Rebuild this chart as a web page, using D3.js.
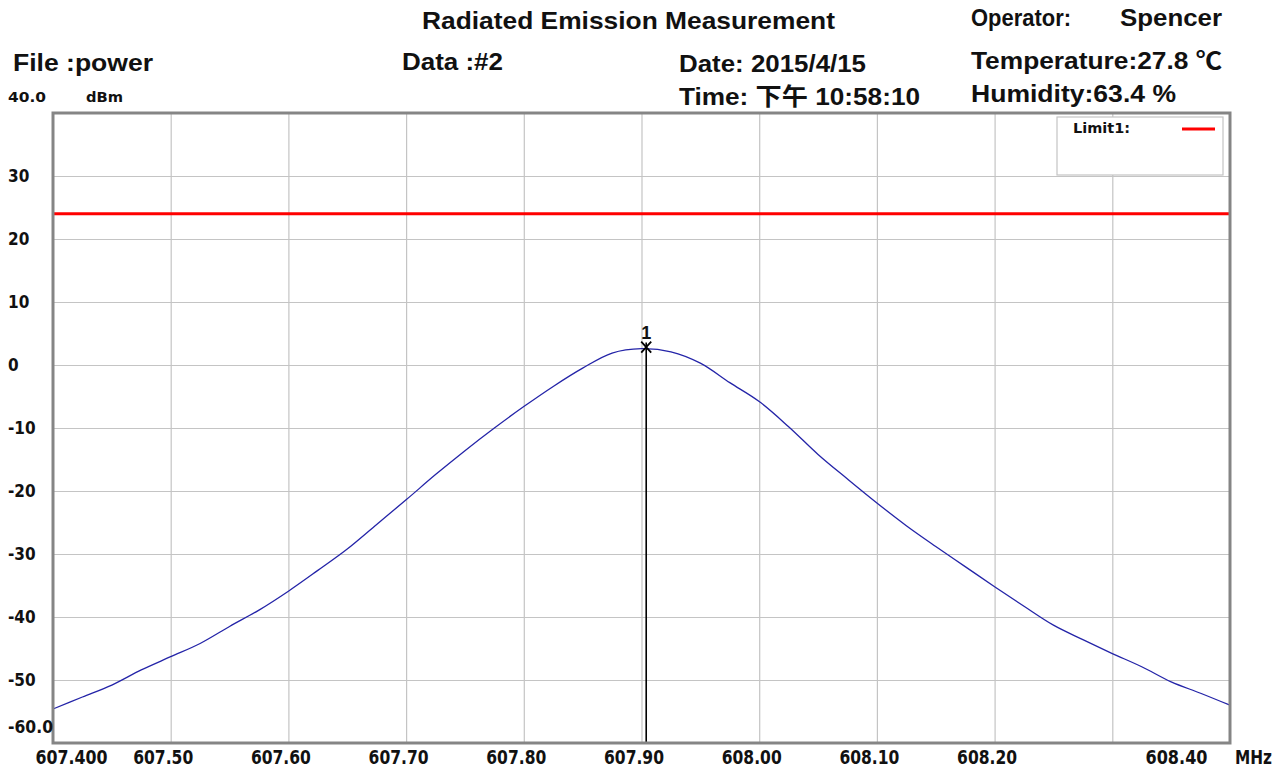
<!DOCTYPE html>
<html>
<head>
<meta charset="utf-8">
<script src="https://cdn.jsdelivr.net/npm/d3@7"></script>
<style>
  html, body { margin: 0; padding: 0; background: #ffffff; }
  svg { display: block; }
  .hdr { font-family: "Liberation Sans", Arial, "Noto Sans CJK SC", sans-serif; font-weight: bold; font-size: 24px; fill: #111; }
  .tick-lbl { font-family: "Liberation Sans Narrow", "DejaVu Sans Condensed", "Liberation Sans", sans-serif; font-weight: bold; fill: #111; }
</style>
</head>
<body>
<svg id="chart" width="1286" height="772"></svg>
<script>
// ---------------- data ----------------
const freqMHz = [
  607.400, 607.425, 607.450, 607.475, 607.500, 607.525, 607.550, 607.575, 607.600, 607.625,
  607.650, 607.675, 607.700, 607.725, 607.750, 607.775, 607.800, 607.825, 607.850, 607.875,
  607.900, 607.925, 607.950, 607.975, 608.000, 608.025, 608.050, 608.075, 608.100, 608.125,
  608.150, 608.175, 608.200, 608.225, 608.250, 608.275, 608.300, 608.325, 608.350, 608.375,
  608.400
];
const levelDbm = [
  -54.6, -52.7, -50.8, -48.4, -46.3, -44.2, -41.5, -38.9, -35.9, -32.6,
  -29.2, -25.3, -21.4, -17.4, -13.6, -10.0, -6.6, -3.4, -0.5, 1.9,
  2.6, 2.1, 0.3, -2.8, -5.8, -9.8, -14.2, -18.1, -21.9, -25.5,
  -28.8, -32.0, -35.2, -38.3, -41.3, -43.6, -45.8, -47.9, -50.3, -52.1,
  -54.0
];
const xGridValues = [607.5, 607.6, 607.7, 607.8, 607.9, 608.0, 608.1, 608.2, 608.3];
const xTickValues = [607.4, 607.5, 607.6, 607.7, 607.8, 607.9, 608.0, 608.1, 608.2, 608.4];
const xTickLabels = ["607.400", "607.50", "607.60", "607.70", "607.80", "607.90", "608.00", "608.10", "608.20", "608.40"];
const yTickValues = [30, 20, 10, 0, -10, -20, -30, -40, -50];
const yTickLabels = ["30", "20", "10", "0", "-10", "-20", "-30", "-40", "-50"];
const yTopLabel = "40.0";
const yBottomLabel = "-60.0";
const yUnit = "dBm";
const xUnit = "MHz";
const limitName = "Limit1:";
const limitDbm = 24;
const markerLabel = "1";
const markerFreq = 607.904;
const markerLevel = 2.6;
const headerTitle = "Radiated Emission Measurement";
const headerFile = "File :power";
const headerData = "Data :#2";
const headerDate = "Date: 2015/4/15";
const headerTime = "Time: 下午 10:58:10";
const headerOperator = "Operator:";
const headerOperatorName = "Spencer";
const headerTemp = "Temperature:27.8 ℃";
const headerHumidity = "Humidity:63.4 %";

// ---------------- layout ----------------
const L = 53, T = 113, R = 1230, B = 743;
const svg = d3.select("#chart");
const x = d3.scaleLinear().domain([607.4, 608.4]).range([L, R]);
const y = d3.scaleLinear().domain([-60, 40]).range([B, T]);

svg.append("rect").attr("x", 0).attr("y", 0).attr("width", 1286).attr("height", 772).attr("fill", "#fff");

// gridlines via axes
const gx = svg.append("g").attr("transform", `translate(0,${B})`)
  .call(d3.axisBottom(x).tickValues(xGridValues).tickSize(-(B - T)).tickFormat(""));
gx.select(".domain").remove();
gx.selectAll("line").attr("stroke", "#c4c4c4").attr("stroke-width", 1.2);

const gy = svg.append("g").attr("transform", `translate(${L},0)`)
  .call(d3.axisLeft(y).tickValues(yTickValues).tickSize(-(R - L)).tickFormat(""));
gy.select(".domain").remove();
gy.selectAll("line").attr("stroke", "#c4c4c4").attr("stroke-width", 1.2);

// limit line
svg.append("line")
  .attr("x1", x(607.4)).attr("x2", x(608.4))
  .attr("y1", y(limitDbm)).attr("y2", y(limitDbm))
  .attr("stroke", "#ff0000").attr("stroke-width", 3);

// trace
const line = d3.line().x((d, i) => x(freqMHz[i])).y(d => y(d)).curve(d3.curveCatmullRom.alpha(0.5));
svg.append("path").datum(levelDbm)
  .attr("d", line).attr("fill", "none")
  .attr("stroke", "#2424a8").attr("stroke-width", 1.3);

// marker
const mx = x(markerFreq), my = y(markerLevel);
svg.append("line").attr("x1", mx).attr("x2", mx).attr("y1", my - 6).attr("y2", B)
  .attr("stroke", "#000").attr("stroke-width", 1.6);
svg.append("path")
  .attr("d", `M${mx - 5},${my - 7}L${mx + 5},${my + 4}M${mx + 5},${my - 7}L${mx - 5},${my + 4}`)
  .attr("stroke", "#000").attr("stroke-width", 1.8).attr("fill", "none");
svg.append("text").attr("x", mx).attr("y", my - 10)
  .attr("text-anchor", "middle")
  .style("font-family", "'Liberation Sans', Arial, sans-serif")
  .style("font-size", "18px").style("font-weight", "bold").attr("fill", "#111")
  .text(markerLabel);

// frame
svg.append("rect").attr("x", L).attr("y", T).attr("width", R - L).attr("height", B - T)
  .attr("fill", "none").attr("stroke", "#858585").attr("stroke-width", 3);

// legend box
const lg = svg.append("g");
lg.append("rect").attr("x", 1057).attr("y", 117).attr("width", 166).attr("height", 58)
  .attr("fill", "#fff").attr("stroke", "#c4c4c4").attr("stroke-width", 1.2);
lg.append("text").attr("class", "tick-lbl").attr("x", 1073).attr("y", 133)
  .style("font-size", "14px").attr("textLength", 57).attr("lengthAdjust", "spacingAndGlyphs").text(limitName);
lg.append("line").attr("x1", 1182).attr("x2", 1215).attr("y1", 129).attr("y2", 129)
  .attr("stroke", "#ff0000").attr("stroke-width", 3);

// x axis labels
const xa = svg.append("g").attr("transform", `translate(0,${B})`)
  .call(d3.axisBottom(x).tickValues(xTickValues).tickSize(0)
    .tickFormat((d, i) => xTickLabels[i]));
xa.select(".domain").remove();
xa.selectAll("text")
  .attr("class", "tick-lbl")
  .attr("fill", "#111")
  .style("font-size", "19px")
  .attr("dy", 0)
  .each(function (d, i) {
    const n = xTickValues.length;
    let dx = -8, len = 60;
    if (i === 0) { dx = 18; len = 72; }
    if (i === n - 1) { dx = -54; len = 62; }
    d3.select(this).attr("x", dx).attr("y", 21)
      .attr("textLength", len).attr("lengthAdjust", "spacingAndGlyphs");
  });
svg.append("text").attr("class", "tick-lbl").attr("x", 1235).attr("y", 764)
  .style("font-size", "19px").attr("textLength", 37).attr("lengthAdjust", "spacingAndGlyphs").text(xUnit);

// y axis labels
const ya = svg.append("g").attr("transform", `translate(${L},0)`)
  .call(d3.axisLeft(y).tickValues(yTickValues).tickSize(0)
    .tickFormat((d, i) => yTickLabels[i]));
ya.select(".domain").remove();
ya.selectAll("text")
  .attr("class", "tick-lbl")
  .attr("fill", "#111")
  .style("font-size", "17px")
  .attr("text-anchor", "start")
  .attr("x", 8 - L)
  .attr("dy", "0.35em");
svg.append("text").attr("class", "tick-lbl").attr("x", 8).attr("y", 733)
  .style("font-size", "17px").attr("textLength", 45).attr("lengthAdjust", "spacingAndGlyphs").text(yBottomLabel);
svg.append("text").attr("class", "tick-lbl").attr("x", 8).attr("y", 102)
  .style("font-size", "14px").attr("textLength", 38).attr("lengthAdjust", "spacingAndGlyphs").text(yTopLabel);
svg.append("text").attr("class", "tick-lbl").attr("x", 86).attr("y", 102)
  .style("font-size", "14px").attr("textLength", 37).attr("lengthAdjust", "spacingAndGlyphs").text(yUnit);

// headers
function hdr(txt, xx, yy, len) {
  svg.append("text").attr("class", "hdr").attr("x", xx).attr("y", yy)
    .attr("textLength", len).attr("lengthAdjust", "spacingAndGlyphs").text(txt);
}
hdr(headerTitle, 422, 29, 413);
hdr(headerFile, 13, 71, 140);
hdr(headerData, 402, 70, 101);
hdr(headerDate, 679, 72, 187);
hdr(headerTime, 679, 105, 241);
hdr(headerOperator, 971, 26, 100);
hdr(headerOperatorName, 1120, 26, 102);
hdr(headerTemp, 971, 69, 251);
hdr(headerHumidity, 971, 102, 205);
</script>
</body>
</html>
